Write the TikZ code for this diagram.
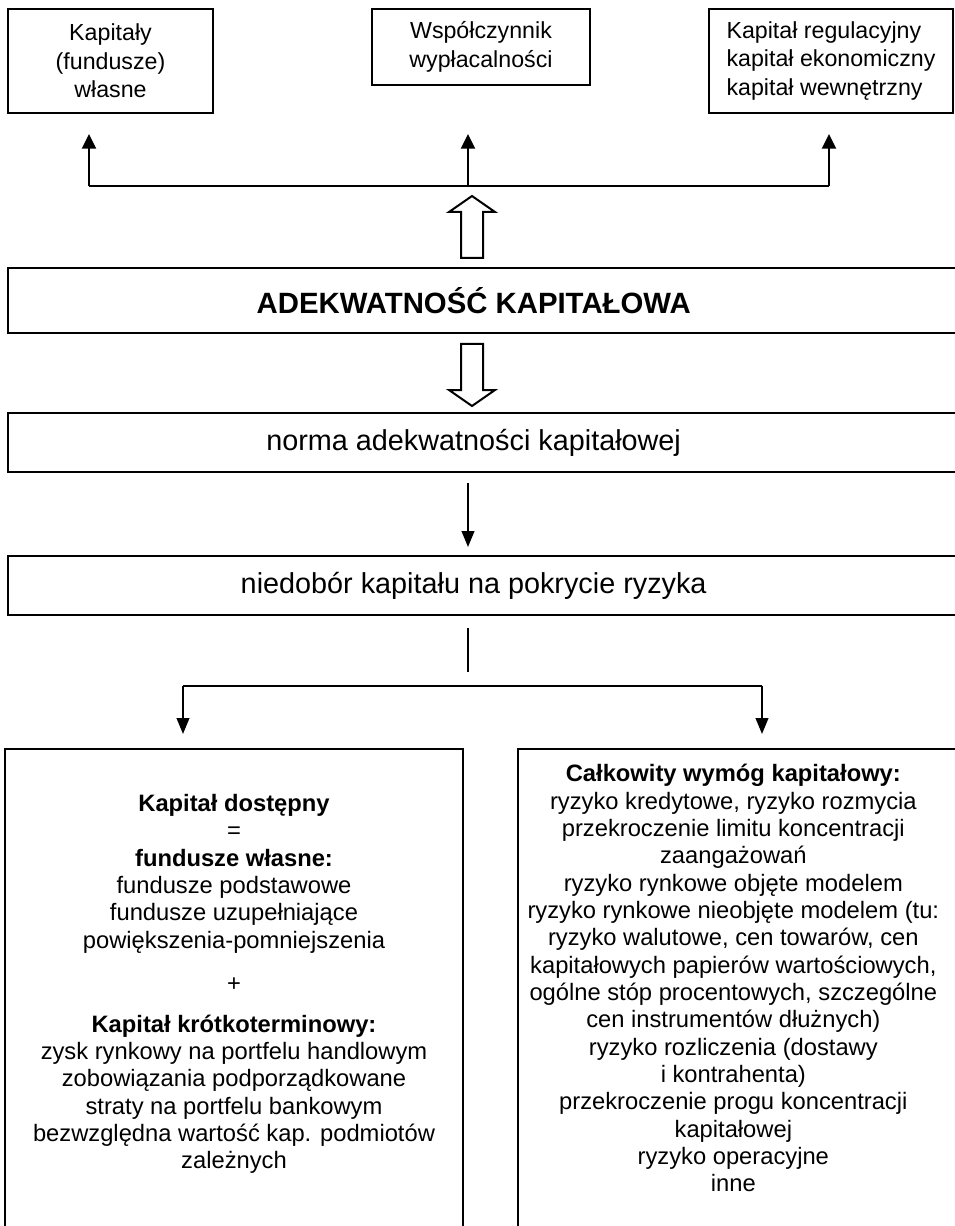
\documentclass[tikz,border=0pt]{standalone}
\usepackage{fontspec}
\setmainfont{Liberation Sans}
\usepackage{tikz}
\usetikzlibrary{arrows.meta,positioning,calc}
\newcommand{\topfnt}{\fontsize{17.4}{21.5}\selectfont}
\newcommand{\bigfnt}{\fontsize{22}{25}\selectfont\bfseries}
\newcommand{\midfnt}{\fontsize{21.6}{24}\selectfont}
\newcommand{\lowfnt}{\fontsize{17.8}{20.5}\selectfont}
\newcommand{\leftish}{\hspace*{-17pt}}
\tikzstyle{box}=[draw,line width=1.5pt,rectangle,inner sep=0pt,align=center]
\tikzstyle{wide}=[box,minimum width=715.5pt,minimum height=44.25pt,font=\midfnt]
\tikzstyle{conn}=[line width=1.5pt]
\tikzstyle{arr}=[conn,-{Triangle[length=11pt,width=10.5pt]}]
\tikzstyle{hollow}=[line width=1.5pt,fill=white,line join=miter]

\begin{document}
\begin{tikzpicture}[x=0.75pt,y=-0.75pt]
      \path[use as bounding box,clip] (0,0) rectangle (955,1226);
      % top row
      \node[box,minimum width=153.75pt,minimum height=78pt,font=\topfnt] at (110.5,61) (kapitaly) {Kapitały\\(fundusze)\\własne};
      \node[box,minimum width=163.5pt,minimum height=57pt,font=\topfnt] at (481,47) (wspol) {Współczynnik\\wypłacalności};
      \node[box,minimum width=183pt,minimum height=78pt,font=\topfnt,align=left] at (831,61) (rodzaje) {Kapitał regulacyjny\\kapitał ekonomiczny\\kapitał wewnętrzny};
      \coordinate (jl) at (89,186);
      \coordinate (jm) at (468,186);
      \coordinate (jr) at (829,186);
      \draw[conn] (jl) -- (jr);
      \draw[arr,shorten >=15pt] (jl) -- (kapitaly.south -| jl);
      \draw[arr,shorten >=36pt] (jm) -- (wspol.south -| jm);
      \draw[arr,shorten >=15pt] (jr) -- (rodzaje.south -| jr);
      % middle column
      \node[wide,minimum height=48.75pt,font=\bigfnt] at (485,300.5) (adekw) {\leftish ADEKWATNOŚĆ KAPITAŁOWA};
      \node[wide] at (485,442.5) (norma) {\leftish norma adekwatności kapitałowej};
      \node[wide] at (485,585.5) (niedobor) {\leftish niedobór kapitału na pokrycie ryzyka};
      \coordinate (hx) at (472,0);
      \coordinate (mx) at (468,0);
      \draw[hollow] (adekw.north -| hx) ++(-11,-9) -- ++(0,-46) -- ++(-12,0) -- ++(23,-16) -- ++(23,16) -- ++(-12,0) -- ++(0,46) -- cycle;
      \draw[hollow] (adekw.south -| hx) ++(-11,10) -- ++(0,46) -- ++(-12,0) -- ++(23,16) -- ++(23,-16) -- ++(-12,0) -- ++(0,-46) -- cycle;
      \draw[arr,shorten <=7.5pt,shorten >=6pt,-{Triangle[length=12pt,width=9.5pt]}] (norma.south -| mx) -- (niedobor.north -| mx);
      \coordinate (split) at (468,672);
      \draw[conn,shorten <=9pt] (niedobor.south -| mx) -- (split);
      % bottom row
      \node[box,minimum width=343.5pt,minimum height=368.25pt] at (234,994.5) (dostepny) {};
      \node[box,minimum width=333pt,minimum height=368.25pt] at (740,994.5) (wymog) {};
      \coordinate (bl) at (183,686);
      \coordinate (br) at (762,686);
      \draw[line width=2.2pt] (bl) -- (br);
      \draw[arr,shorten >=10.5pt,-{Triangle[length=12pt,width=9.5pt]}] (bl) -- (dostepny.north -| bl);
      \draw[arr,shorten >=10.5pt,-{Triangle[length=12pt,width=9.5pt]}] (br) -- (wymog.north -| br);
      \node[below=34.5pt of dostepny.north,anchor=north,align=center,inner sep=0pt,font=\lowfnt] (dosttxt) {\textbf{Kapitał dostępny}\\=\\\textbf{fundusze własne:}\\fundusze podstawowe\\fundusze uzupełniające\\powiększenia-pomniejszenia\\[12pt]+\\[10pt]\textbf{Kapitał krótkoterminowy:}\\zysk rynkowy na portfelu handlowym\\zobowiązania podporządkowane\\straty na portfelu bankowym\\bezwzględna wartość kap. podmiotów\\zależnych};
      \node[below=12pt of wymog.north,anchor=north,align=center,inner sep=0pt,font=\lowfnt,xshift=-5pt] (wymtxt) {\textbf{Całkowity wymóg kapitałowy:}\\ryzyko kredytowe, ryzyko rozmycia\\przekroczenie limitu koncentracji\\zaangażowań\\ryzyko rynkowe objęte modelem\\ryzyko rynkowe nieobjęte modelem (tu:\\ryzyko walutowe, cen towarów, cen\\kapitałowych papierów wartościowych,\\ogólne stóp procentowych, szczególne\\cen instrumentów dłużnych)\\ryzyko rozliczenia (dostawy\\i kontrahenta)\\przekroczenie progu koncentracji\\kapitałowej\\ryzyko operacyjne\\inne};
\end{tikzpicture}
\end{document}
